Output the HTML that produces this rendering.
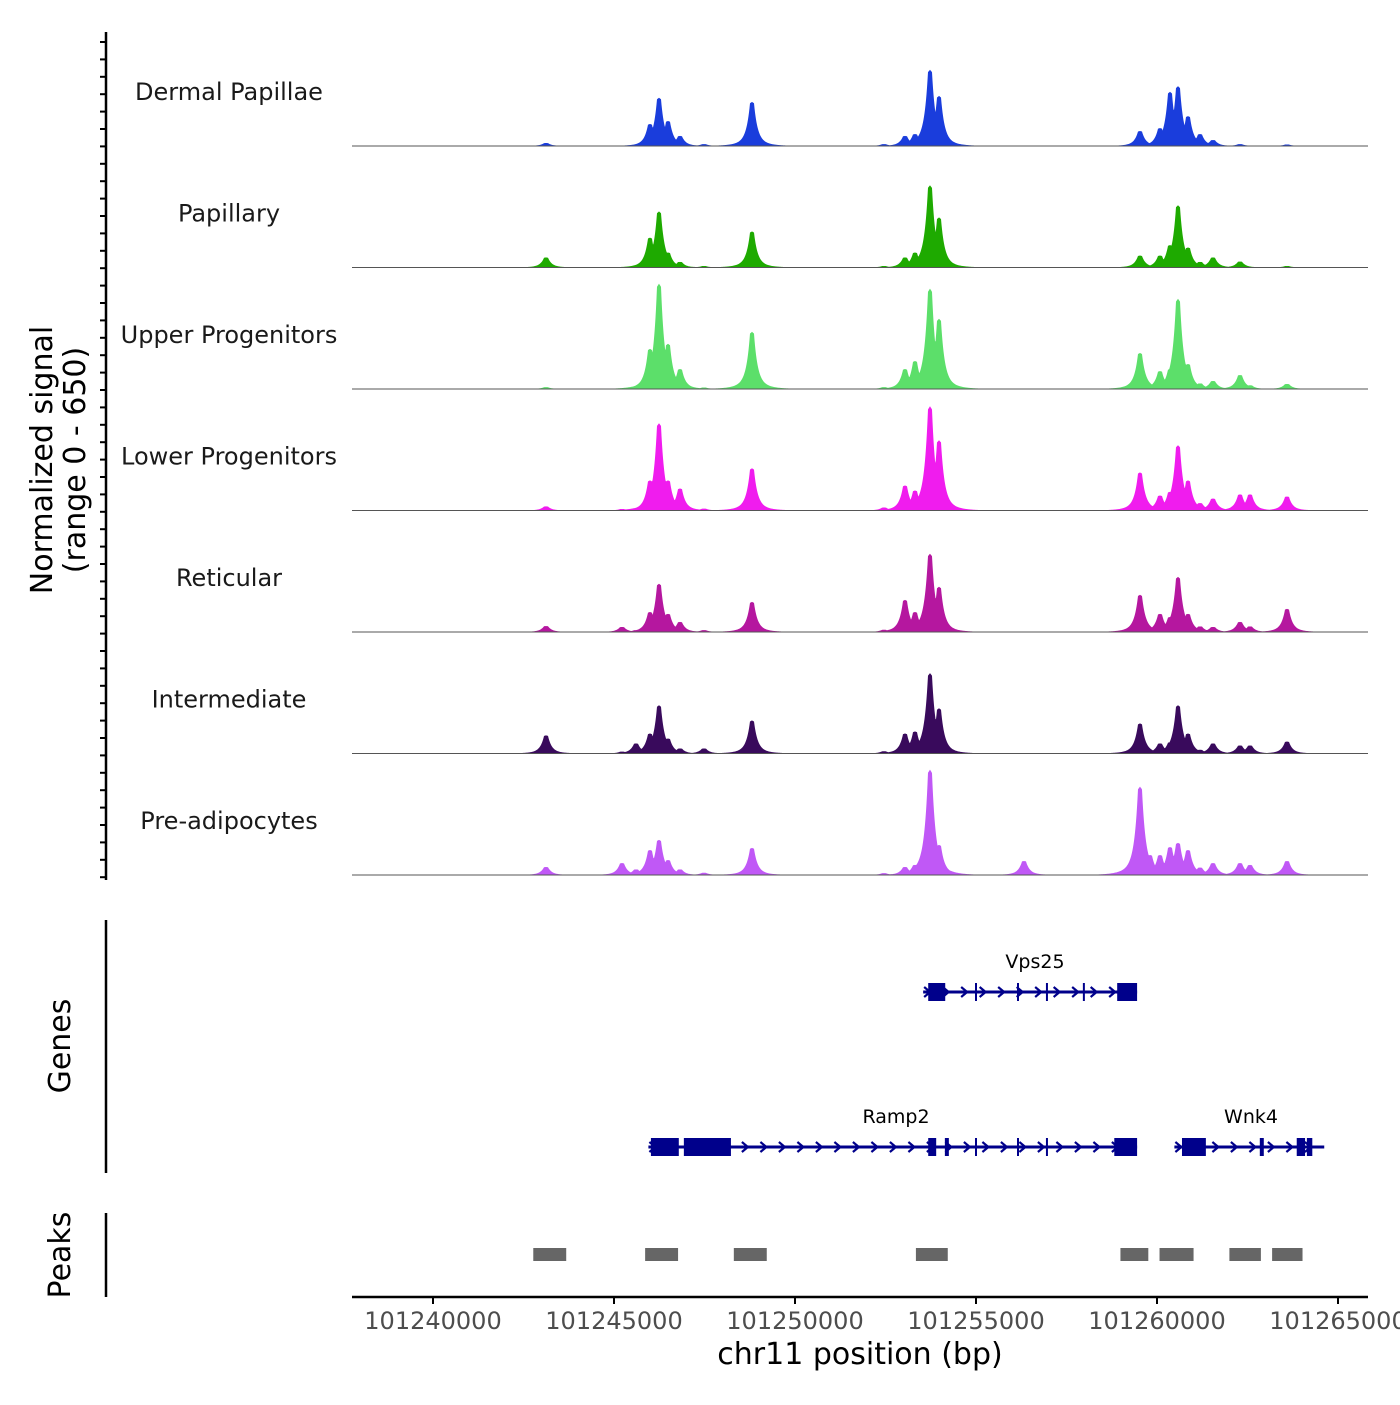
<!DOCTYPE html>
<html><head><meta charset="utf-8"><style>
body{margin:0;background:#fff}
svg text{font-family:"DejaVu Sans","Liberation Sans",sans-serif}
</style></head><body>
<svg id="chart" width="1400" height="1400" xmlns="http://www.w3.org/2000/svg"></svg>
<script>
const trackNames=["Dermal Papillae","Papillary","Upper Progenitors","Lower Progenitors","Reticular","Intermediate","Pre-adipocytes"];
const trackColors=["#1a3ddc","#1eaa00","#5cdf6a","#f01cee","#b5179f","#390a5c","#c058f6"];
const peakPos=[101243122,101245221,101245608,101245994,101246243,101246492,101246823,101247486,101248812,101252459,101253039,101253315,101253729,101253978,101256326,101259530,101259807,101260083,101260359,101260580,101260856,101261188,101261547,101262293,101262569,101263591];
const sigDermal=[16,0,0,118,258,134,54,10,236,10,54,64,408,268,0,80,0,96,290,320,160,64,32,10,0,8];
const sigPapillary=[54,0,0,160,300,80,30,8,193,8,54,80,440,268,0,64,0,64,120,333,107,30,54,32,0,8];
const sigUpper=[10,0,0,215,564,242,107,8,306,10,107,150,537,376,0,193,0,96,107,483,134,30,43,75,20,27];
const sigLower=[22,8,10,161,467,161,118,10,226,16,134,107,558,376,0,204,0,80,100,349,161,40,64,86,86,75];
const sigReticular=[32,27,10,107,258,97,54,10,161,12,172,107,419,242,0,199,0,97,80,295,97,30,27,54,30,124];
const sigIntermediate=[97,10,54,107,258,80,27,27,177,12,107,118,430,242,0,161,20,54,60,258,107,20,54,43,43,64];
const sigPreadipo=[43,64,30,134,188,80,30,12,145,10,43,54,564,161,75,473,107,107,150,172,134,40,64,64,54,75];
const trackSignals=[sigDermal,sigPapillary,sigUpper,sigLower,sigReticular,sigIntermediate,sigPreadipo];
const xTicks=[101240000,101245000,101250000,101255000,101260000,101265000];
const genes=[{name:"Vps25",row:0,start:101253540,end:101259450,exons:[[101253680,101254150],[101258900,101259450]],marks:[101255000,101256160,101256960,101257980]},
{name:"Ramp2",row:1,start:101245950,end:101259450,exons:[[101246020,101246790],[101246930,101248230],[101253680,101253900],[101254140,101254250],[101258820,101259450]],marks:[101255000,101256160,101256960]},
{name:"Wnk4",row:1,start:101260480,end:101264620,exons:[[101260690,101261350],[101262840,101262950],[101263860,101264090],[101264140,101264290]],marks:[]}];
const peakRegions=[[101242770,101243680],[101245860,101246770],[101248310,101249220],[101253340,101254220],[101258990,101259760],[101260070,101261010],[101262000,101262870],[101263180,101264020]];

const NS="http://www.w3.org/2000/svg";
const svg=document.getElementById('chart');
const X0=101240000,PX0=433,PPB=36.2/1000;
const xs=v=>PX0+(v-X0)*PPB;
const L=352,R=1368,TH=121.5,B0=146,YMAX=650;
function el(tag,attrs,parent){const e=document.createElementNS(NS,tag);for(const k in attrs)e.setAttribute(k,attrs[k]);(parent||svg).appendChild(e);return e;}
function txt(s,attrs,parent){const t=el('text',attrs,parent);t.textContent=s;return t;}

trackNames.forEach((nm,i)=>{
  const base=B0+i*TH;
  const g=el('g',{});
  
  
  const vals=trackSignals[i];
  let d='M'+L+','+base;
  for(let px=L;px<=R;px+=0.5){
    let v=0;
    for(let k=0;k<peakPos.length;k++){
      const dx=Math.abs(px-xs(peakPos[k]));
      const core=dx<2?1:Math.exp(-(dx-2)/3.6);
      const s=vals[k]*(0.8*core+0.2*Math.exp(-dx/12));
      if(s>v)v=s;
    }
    const y=base-Math.min(v,YMAX)/YMAX*TH;
    d+='L'+px+','+y.toFixed(2);
  }
  d+='L'+R+','+base+'Z';
  const p=el('path',{d:d,fill:trackColors[i]},g);
  
  
  const bl=el('line',{x1:L,x2:R,y1:base,y2:base,stroke:'#555','stroke-width':1},g);
  
  
  const t=txt(nm,{x:229,y:base-46,'text-anchor':'middle','font-size':24,fill:'#1a1a1a'},g);
  
  
});

const ax=el('line',{x1:106,x2:106,y1:32,y2:880,stroke:'#000','stroke-width':2.5});

for(let y=42;y<=878;y+=17.4){const tk=el('line',{x1:100,x2:106,y1:y,y2:y,stroke:'#000','stroke-width':2});}
const yt=txt('',{transform:'translate(52,460) rotate(-90)','text-anchor':'middle','font-size':30,fill:'#000'});

el('tspan',{x:0,dy:0},yt).textContent='Normalized signal';
el('tspan',{x:0,dy:33},yt).textContent='(range 0 - 650)';

const ga=el('line',{x1:106,x2:106,y1:920,y2:1173,stroke:'#000','stroke-width':2.5});

const gt=txt('Genes',{transform:'translate(70,1046) rotate(-90)','text-anchor':'middle','font-size':30});

const gc='#00008b';
genes.forEach(gn=>{
  const y=gn.row===0?992:1147;
  const g=el('g',{});
  
  
  const x1=xs(gn.start),x2=xs(gn.end);
  el('line',{x1:x1,x2:x2,y1:y,y2:y,stroke:gc,'stroke-width':3},g);
  for(let x=x1+4;x<x2-6;x+=18.5){el('path',{d:`M${x-3},${y-5}L${x+3},${y}L${x-3},${y+5}`,fill:'none',stroke:gc,'stroke-width':2.2},g);}
  gn.exons.forEach(e=>{el('rect',{x:xs(e[0]),y:y-9,width:Math.max(3,xs(e[1])-xs(e[0])),height:18,fill:gc},g);});
  gn.marks.forEach(m=>{el('line',{x1:xs(m),x2:xs(m),y1:y-9,y2:y+9,stroke:gc,'stroke-width':2},g);});
  const t=txt(gn.name,{x:(gn.name==='Ramp2'?896:(gn.name==='Wnk4'?1251:1035)),y:y-24,'text-anchor':'middle','font-size':19,fill:'#000'},g);
  
});

const pa=el('line',{x1:106,x2:106,y1:1213,y2:1297,stroke:'#000','stroke-width':2.5});

const pt=txt('Peaks',{transform:'translate(70,1255) rotate(-90)','text-anchor':'middle','font-size':30});

peakRegions.forEach(pr=>{const r=el('rect',{x:xs(pr[0]),y:1248,width:xs(pr[1])-xs(pr[0]),height:13,fill:'#666'});});

const xa=el('line',{x1:L,x2:R,y1:1297,y2:1297,stroke:'#000','stroke-width':2.5});

xTicks.forEach(v=>{
  const tk=el('line',{x1:xs(v),x2:xs(v),y1:1297,y2:1304,stroke:'#000','stroke-width':2});
  
  const t=txt(String(v),{x:xs(v),y:1329,'text-anchor':'middle','font-size':24,fill:'#4d4d4d'});
  
});
const xt=txt('chr11 position (bp)',{x:860,y:1364,'text-anchor':'middle','font-size':30,fill:'#000'});

</script>
</body></html>
